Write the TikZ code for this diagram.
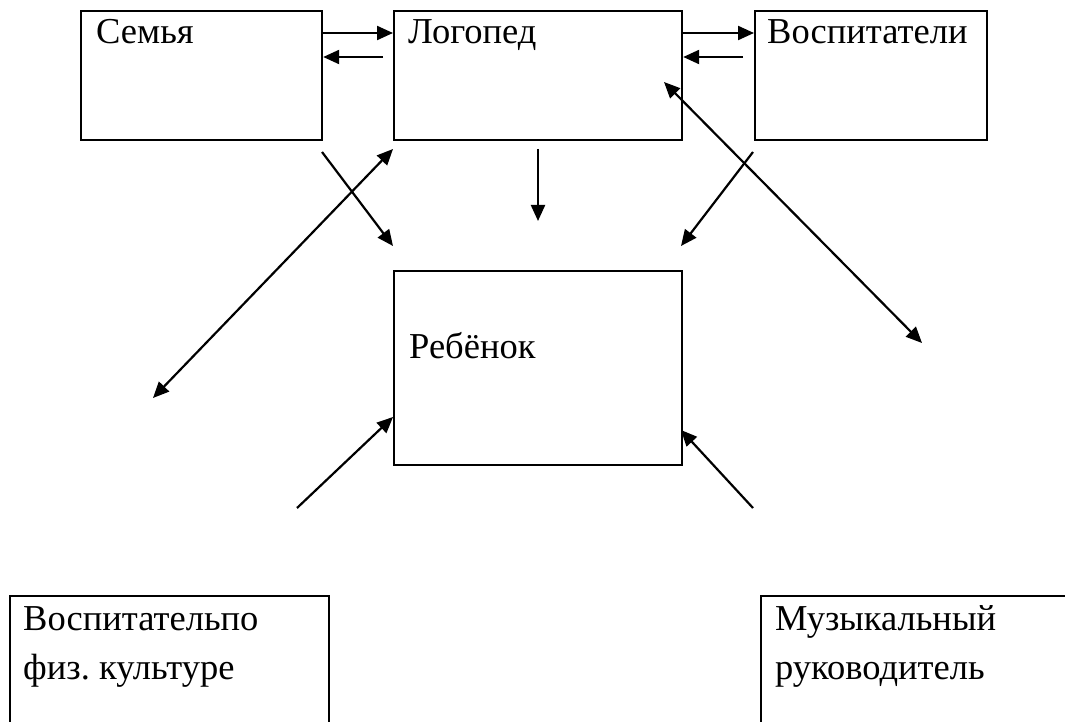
\documentclass[tikz,border=0pt]{standalone}
\usepackage{fontspec}
\setmainfont{Liberation Serif}
\usetikzlibrary{arrows.meta}
\begin{document}
\begin{tikzpicture}[x=1pt,y=-1pt,
  box/.style={draw=black,line width=2.2pt,rectangle,inner sep=0pt,anchor=north west},
  lbl/.style={anchor=base west,inner sep=0pt,font=\fontsize{36.5}{50}\selectfont\frenchspacing},
  conn/.style={line width=2.2pt,-{Triangle[length=16pt,width=14pt]}},
  dconn/.style={line width=2.2pt,{Triangle[length=16pt,width=14pt]}-{Triangle[length=16pt,width=14pt]}}]
\useasboundingbox (0,0) rectangle (1065,722);
\clip (0,0) rectangle (1065,722);
% boxes
\node[box,minimum width=241pt,minimum height=129pt] (semya) at (80,10) {};
\node[box,minimum width=288pt,minimum height=129pt] (logoped) at (393,10) {};
\node[box,minimum width=232pt,minimum height=129pt] (vosp) at (754,10) {};
\node[box,minimum width=288pt,minimum height=194pt] (rebenok) at (393,270) {};
\node[box,minimum width=319pt,minimum height=160pt] (fiz) at (9,595) {};
\node[box,minimum width=330pt,minimum height=160pt] (muz) at (760,595) {};
% labels
\node[lbl] (tsemya) at (96,44) {Семья};
\node[lbl] (tlogoped) at (408,44) {Логопед};
\node[lbl] (tvosp) at (767,44) {Воспитатели};
\node[lbl] (treb) at (409,358) {Ребёнок};
\node[lbl] (tfiz1) at (23,630) {Воспитательпо};
\node[lbl] (tfiz2) at (23,679) {физ. культуре};
\node[lbl] (tmuz1) at (775,630) {Музыкальный};
\node[lbl] (tmuz2) at (775,679) {руководитель};
% free ends
\coordinate (a1) at (383,57);
\coordinate (a2) at (743,57);
\coordinate (s1) at (322,152);
\coordinate (s2) at (393,246);
\coordinate (l1) at (538,149);
\coordinate (l2) at (538,221);
\coordinate (v1) at (753,152);
\coordinate (v2) at (681,246);
\coordinate (fa) at (153,398);
\coordinate (fb) at (393,149);
\coordinate (ma) at (664,82);
\coordinate (mb) at (922,343);
\coordinate (b1) at (297,508);
\coordinate (b2) at (393,417);
\coordinate (c1) at (753,508);
\coordinate (c2) at (681,430);
% connectors
\draw[conn] (semya.east |- 0,33) -- (logoped.west |- 0,33);
\draw[conn] (a1) -- (semya.east |- a1);
\draw[conn] (logoped.east |- 0,33) -- (vosp.west |- 0,33);
\draw[conn] (a2) -- (logoped.east |- a2);
\draw[conn] (s1) -- (s2);
\draw[conn] (l1) -- (l2);
\draw[conn] (v1) -- (v2);
\draw[dconn] (fa) -- (fb);
\draw[dconn] (ma) -- (mb);
\draw[conn] (b1) -- (b2);
\draw[conn] (c1) -- (c2);
\end{tikzpicture}
\end{document}
